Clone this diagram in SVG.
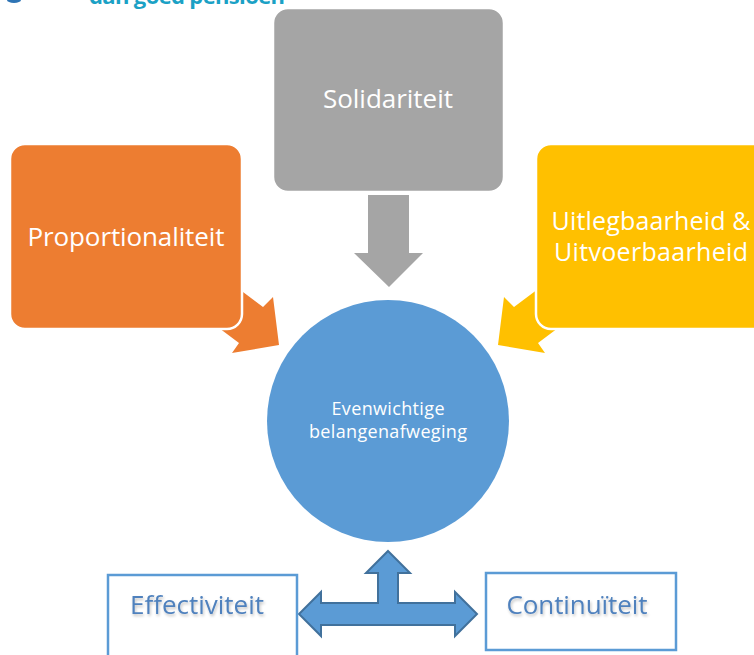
<svg xmlns="http://www.w3.org/2000/svg" width="754" height="655" viewBox="0 0 754 655">
  <defs>
    <style>
      .lbl { font-family: "Open Sans", "Liberation Sans", sans-serif; fill: #ffffff; text-anchor: middle; }
      .big { font-size: 26px; }
      .two { font-size: 25px; }
      .small { font-size: 18px; }
      .boxed { font-family: "Open Sans", "Liberation Sans", sans-serif; font-size: 26px; fill: #4f81bd; text-anchor: middle; filter: url(#soft); }
      .card { stroke: #ffffff; stroke-width: 2.5; }
      .outline { fill: #ffffff; stroke: #5b9bd5; stroke-width: 2.5; }
    </style>
    <filter id="soft" x="-10%" y="-30%" width="120%" height="160%">
      <feGaussianBlur in="SourceAlpha" stdDeviation="1.5" result="b"/>
      <feOffset in="b" dx="1" dy="2" result="o"/>
      <feComponentTransfer in="o" result="s"><feFuncA type="linear" slope="0.25"/></feComponentTransfer>
      <feMerge><feMergeNode in="s"/><feMergeNode in="SourceGraphic"/></feMerge>
    </filter>
  </defs>

  <rect width="754" height="655" fill="#ffffff"/>

  <g id="header">
    <ellipse cx="14" cy="0" rx="7" ry="3" fill="#2e74b5"/>
    <text x="89" y="4" font-family="Open Sans, Liberation Sans, sans-serif" font-size="22" font-weight="bold" fill="#1ba1c5" textLength="196">dan goed pensioen</text>
  </g>

  <g id="connectors">
    <polygon fill="#a5a5a5" points="368,195 409,195 409,253 423,253 389,287 354,253 368,253"/>
    <polygon fill="#ed7d31" points="231,283 263,307 273,297 279,345 232,353 239,343 207,319"/>
    <polygon fill="#ffc000" points="546,283 514,307 504,297 498,345 545,353 538,343 570,319"/>
    <polygon fill="#5b9bd5" stroke="#41719c" stroke-width="2" stroke-linejoin="miter" points="388,551 410,573 398,573 398,603 455,603 455,592 477,614 455,636 455,625 321,625 321,636 299,614 321,592 321,603 378,603 378,573 366,573"/>
  </g>

  <g id="node-solidariteit">
    <rect class="card" x="273" y="8" width="231" height="184" rx="15" fill="#a5a5a5"/>
    <text class="lbl big" x="388" y="108" textLength="130">Solidariteit</text>
  </g>

  <g id="node-proportionaliteit">
    <rect class="card" x="10" y="144" width="232" height="185" rx="15" fill="#ed7d31"/>
    <text class="lbl big" x="126" y="246" textLength="197">Proportionaliteit</text>
  </g>

  <g id="node-uitleg">
    <rect class="card" x="536" y="144" width="232" height="185" rx="15" fill="#ffc000"/>
    <text class="lbl two" x="651" y="230" textLength="199">Uitlegbaarheid &amp;</text>
    <text class="lbl two" x="651" y="261" textLength="194">Uitvoerbaarheid</text>
  </g>

  <g id="node-center">
    <circle cx="388" cy="421" r="121" fill="#5b9bd5"/>
    <text class="lbl small" x="388" y="415" textLength="113">Evenwichtige</text>
    <text class="lbl small" x="388" y="438" textLength="158">belangenafweging</text>
  </g>

  <g id="node-effectiviteit">
    <rect class="outline" x="108" y="575" width="189" height="90"/>
    <text class="boxed" x="197" y="614" textLength="134">Effectiviteit</text>
  </g>

  <g id="node-continuiteit">
    <rect class="outline" x="486" y="573" width="190" height="77"/>
    <text class="boxed" x="577" y="614" textLength="141">Continuïteit</text>
  </g>
</svg>
